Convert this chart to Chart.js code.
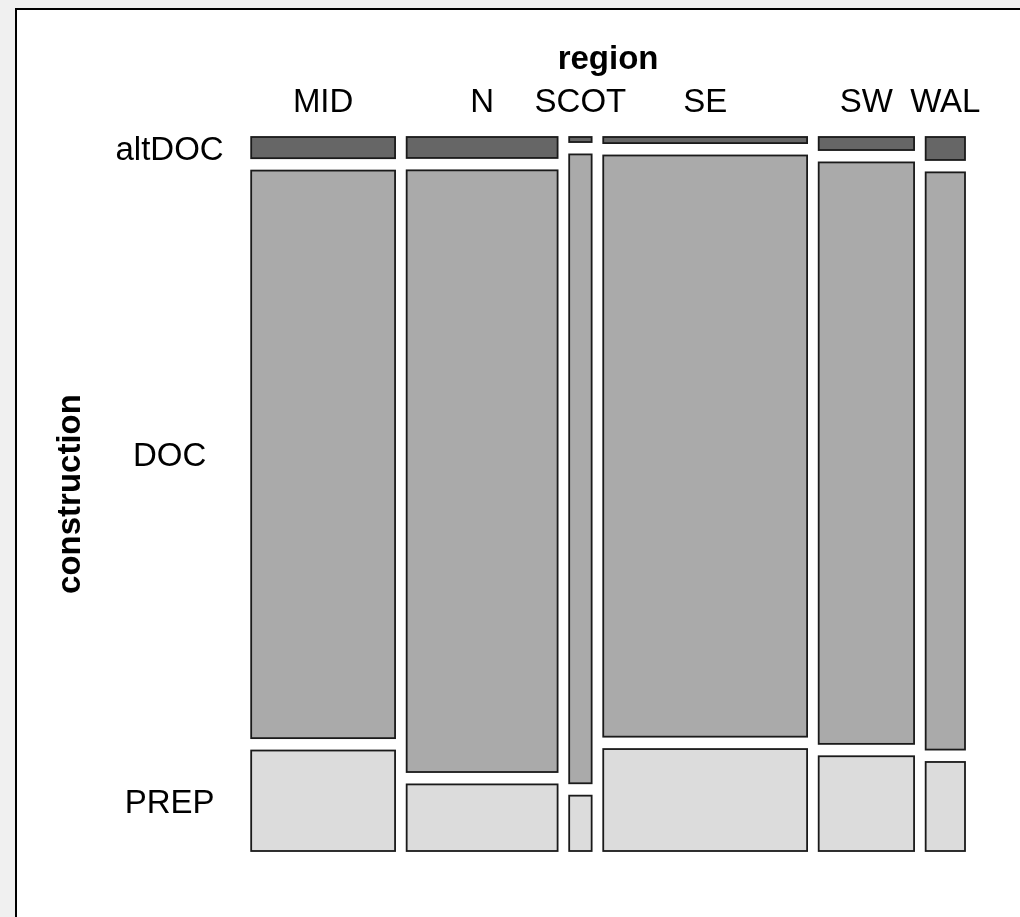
<!DOCTYPE html>
<html><head><meta charset="utf-8">
<script src="https://cdn.jsdelivr.net/npm/chart.js@4.4.0/dist/chart.umd.min.js"></script>
<style>
html,body{margin:0;padding:0;background:#f0f0f0;overflow:hidden;width:1020px;height:917px;}
#panel{position:absolute;left:15px;top:8px;width:1100px;height:1000px;background:#fff;border-top:2px solid #000;border-left:2px solid #000;}
#wrap{position:absolute;left:0;top:0;width:1020px;height:917px;}
</style></head><body>
<div id="panel"></div>
<div id="wrap"><canvas id="c"></canvas></div>
<script>
// ---- data (estimated counts) ----
const regions = ['MID', 'N', 'SCOT', 'SE', 'SW', 'WAL'];
const constructions = ['altDOC', 'DOC', 'PREP'];
const altDOC = [27, 28, 1, 11, 11, 8];
const DOC    = [723, 804, 125, 1049, 491, 201];
const PREP   = [128, 89, 11, 184, 80, 31];

// ---- layout / style constants ----
const GAP_X_FRAC = 0.01768;   // gap between columns, fraction of grand total
const GAP_Y = 0.01797;        // gap between rows, fraction of column height
const FILLS = ['#666666', '#aaaaaa', '#dcdcdc'];
const FONT = "'Liberation Sans', Arial, sans-serif";

const series = [altDOC, DOC, PREP];
const colTotals = regions.map((_, i) => altDOC[i] + DOC[i] + PREP[i]);
const grand = colTotals.reduce((a, b) => a + b, 0);
const gapX = GAP_X_FRAC * grand;
const xMax = grand + gapX * (regions.length - 1);
const yMax = 1 + GAP_Y * (constructions.length - 1);

// build cells in data space
const cells = [];
const colCenters = [];
let xPos = 0;
regions.forEach((r, i) => {
  const x0 = xPos, x1 = xPos + colTotals[i];
  colCenters.push((x0 + x1) / 2);
  let yPos = 0;
  series.forEach((s, k) => {
    const p = s[i] / colTotals[i];
    cells.push({x0, x1, y0: yPos, y1: yPos + p, fill: FILLS[k]});
    yPos += p + GAP_Y;
  });
  xPos = x1 + gapX;
});
// row label positions follow the first column
const rowCenters = [];
{
  let yPos = 0;
  series.forEach(s => {
    const p = s[0] / colTotals[0];
    rowCenters.push(yPos + p / 2);
    yPos += p + GAP_Y;
  });
}

const mosaicPlugin = {
  id: 'mosaic',
  beforeDatasetsDraw(chart) {
    const {ctx, scales: {x, y}} = chart;
    ctx.save();
    ctx.lineWidth = 1.8;
    ctx.strokeStyle = '#1a1a1a';
    cells.forEach(c => {
      const px0 = x.getPixelForValue(c.x0), px1 = x.getPixelForValue(c.x1);
      const py0 = y.getPixelForValue(c.y0), py1 = y.getPixelForValue(c.y1);
      const l = Math.min(px0, px1), t = Math.min(py0, py1);
      const w = Math.abs(px1 - px0), h = Math.abs(py1 - py0);
      ctx.fillStyle = c.fill;
      ctx.fillRect(l, t, w, h);
      ctx.strokeRect(l, t, w, h);
    });
    ctx.restore();
  }
};

new Chart(document.getElementById('c'), {
  type: 'scatter',
  data: { datasets: [] },
  plugins: [mosaicPlugin],
  options: {
    responsive: true,
    maintainAspectRatio: false,
    devicePixelRatio: 1,
    animation: false,
    layout: { padding: { left: 16, top: 35.8, right: 55, bottom: 66 } },
    plugins: { legend: { display: false }, tooltip: { enabled: false } },
    scales: {
      x: {
        type: 'linear', position: 'top', min: 0, max: xMax,
        grid: { display: false }, border: { display: false },
        afterBuildTicks: s => { s.ticks = colCenters.map(v => ({value: v})); },
        ticks: {
          autoSkip: false, maxRotation: 0, minRotation: 0, padding: 6,
          color: '#000', font: { family: FONT, size: 33 },
          callback: (v, i) => regions[i]
        },
        title: {
          display: true, text: 'region', color: '#000',
          font: { family: FONT, size: 33, weight: 'bold' },
          padding: { top: 4, bottom: -2 }
        }
      },
      y: {
        type: 'linear', position: 'left', reverse: true, min: 0, max: yMax,
        grid: { display: false }, border: { display: false },
        afterBuildTicks: s => { s.ticks = rowCenters.map(v => ({value: v})); },
        ticks: {
          autoSkip: false, padding: 19.5, crossAlign: 'center', labelOffset: 3,
          color: '#000', font: { family: FONT, size: 33 },
          callback: (v, i) => constructions[i]
        },
        title: {
          display: true, text: 'construction', color: '#000',
          font: { family: FONT, size: 33, weight: 'bold' },
          padding: { top: 35.2, bottom: 5.2 }
        }
      }
    }
  }
});
</script>
</body></html>
